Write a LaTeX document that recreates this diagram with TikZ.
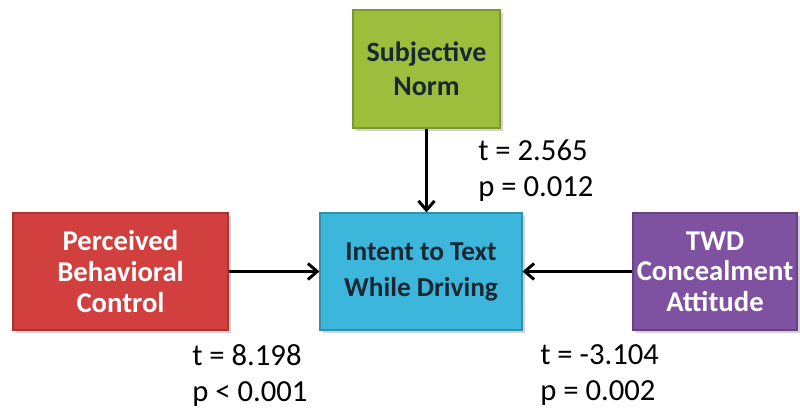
\documentclass[tikz,border=0pt]{standalone}
\usepackage{fontspec}
\setmainfont{Carlito}
\usetikzlibrary{arrows.meta,shadows}
\definecolor{normgreen}{HTML}{9DBE3C}
\definecolor{intentblue}{HTML}{3CB6DB}
\definecolor{pbcred}{HTML}{D1403F}
\definecolor{twdpurple}{HTML}{7F52A1}
\definecolor{boxtext}{HTML}{1A2633}
\tikzset{
  construct/.style={draw=#1!80!black, line width=0.8pt, fill=#1, inner sep=0pt,
    drop shadow={shadow xshift=2pt, shadow yshift=-2pt, opacity=0.35},
    align=center, font=\bfseries},
  twoline/.style={font=\fontsize{20.5}{27}\selectfont\bfseries},
  threeline/.style={font=\fontsize{21.5}{23}\selectfont\bfseries},
  path/.style={line width=2.2pt, -{Straight Barb[length=7pt,width=12pt,line width=2.2pt]}},
  stat/.style={align=left, anchor=north west, inner sep=0pt,
    font=\fontsize{23}{27}\selectfont}
}
\begin{document}
\begin{tikzpicture}[x=0.75pt,y=-0.75pt]
\useasboundingbox (0,0) rectangle (800,410);
\node[construct=normgreen, text=boxtext, font=\fontsize{21}{25.5}\selectfont\bfseries,
  minimum width=147*0.75pt, minimum height=118*0.75pt]
  (norm) at (426.5,69) {Subjective\\Norm};
\node[construct=intentblue, twoline, text=boxtext, minimum width=202*0.75pt, minimum height=117*0.75pt]
  (intent) at (421,271.5) {Intent to Text\\While Driving};
\node[construct=pbcred, threeline, text=white, minimum width=215*0.75pt, minimum height=117*0.75pt]
  (pbc) at (120.5,271.5) {Perceived\\Behavioral\\Control};
\node[construct=twdpurple, threeline, text=white, minimum width=164*0.75pt, minimum height=117*0.75pt]
  (twd) at (715,271.5) {TWD\\Concealment\\Attitude};
\draw[path] (norm.south) -- (norm.south |- intent.north);
\draw[path] (pbc.east) -- (intent.west);
\draw[path] (twd.west) -- (intent.east);
\node[stat] (normstat) at (478,140) {t = 2.565\\p = 0.012};
\node[stat] (pbcstat) at (192,344) {t = 8.198\\p < 0.001};
\node[stat] (twdstat) at (540,344) {t = -3.104\\p = 0.002};
\end{tikzpicture}
\end{document}
